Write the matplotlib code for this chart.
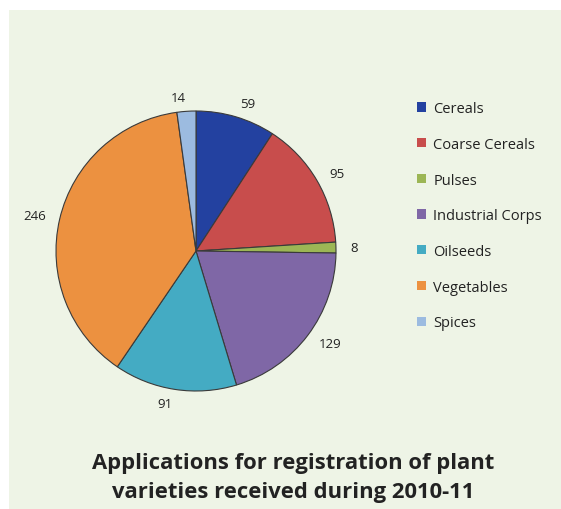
import matplotlib.pyplot as plt
from matplotlib.patches import Rectangle, Patch

categories = ["Cereals", "Coarse Cereals", "Pulses", "Industrial Corps",
              "Oilseeds", "Vegetables", "Spices"]
values = [59, 95, 8, 129, 91, 246, 14]
colors = ["#2341a0", "#c84d4c", "#9cb655", "#7f67a6", "#44abc3", "#ec9140", "#9cbbe0"]
title = "Applications for registration of plant\nvarieties received during 2010-11"

plt.rcParams["font.family"] = ["Open Sans", "DejaVu Sans"]

fig = plt.figure(figsize=(5.61, 5.10), dpi=100)
fig.patch.set_facecolor("white")
# light green panel
fig.patches.append(Rectangle((9 / 561, 0), 1, 1 - 11 / 510, transform=fig.transFigure,
                             facecolor="#eef4e6", edgecolor="none", zorder=-5))

ax = fig.add_axes([56 / 561, 118 / 510, 280 / 561, 280 / 510])
ax.patch.set_visible(False)
wedges, texts = ax.pie(values, colors=colors, startangle=90, counterclock=False,
                       labels=[str(v) for v in values], labeldistance=1.1,
                       wedgeprops=dict(edgecolor="#3a3a3a", linewidth=0.8),
                       textprops=dict(fontsize=9.5, color="#222222"))
ax.set_xlim(-1, 1)
ax.set_ylim(-1, 1)
ax.set_aspect("equal")

handles = [Patch(facecolor=c, edgecolor="none") for c in colors]
fig.legend(handles, categories, loc="upper left", bbox_to_anchor=(404 / 561, 1 - 89 / 510),
           frameon=False, fontsize=10.5, handlelength=0.6, handleheight=0.6,
           handletextpad=0.5, labelspacing=1.42, labelcolor="#222222")

fig.text(293 / 561, 1 - 478 / 510, title, ha="center", va="center", fontsize=15.8,
         fontweight="bold", color="#222222", linespacing=1.45)

fig.savefig("out.png", dpi=100)
